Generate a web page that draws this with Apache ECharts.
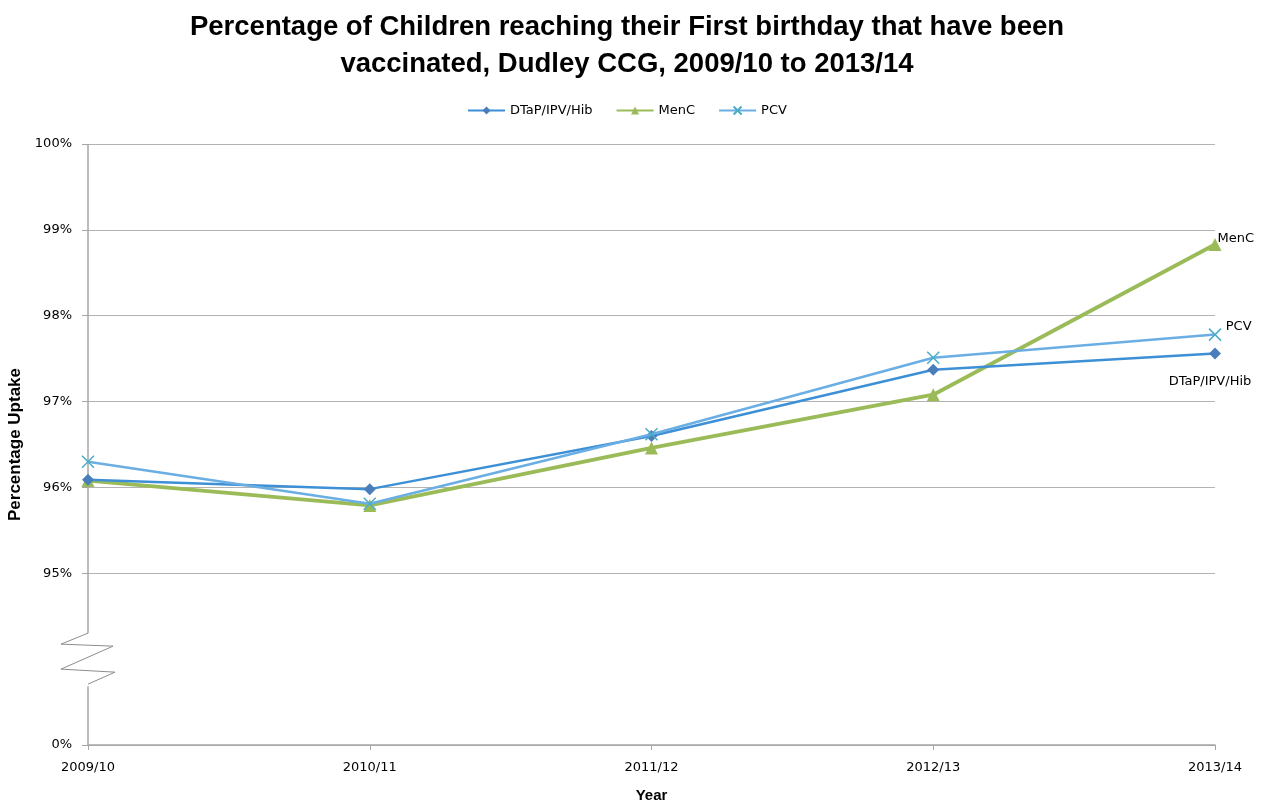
<!DOCTYPE html>
<html>
<head>
<meta charset="utf-8">
<script src="https://cdn.jsdelivr.net/npm/echarts@6/dist/echarts.min.js"></script>
<style>html,body{margin:0;padding:0;background:#fff}#c{width:1271px;height:805px}</style>
</head>
<body>
<div id="c"></div>
<script>
const categories = ['2009/10', '2010/11', '2011/12', '2012/13', '2013/14'];
const dtap = [96.09, 95.98, 96.60, 97.37, 97.56];
const menc = [96.08, 95.79, 96.46, 97.08, 98.83];
const pcv  = [96.30, 95.81, 96.62, 97.51, 97.78];
const yTicks = [93, 95, 96, 97, 98, 99, 100];   // 93 is drawn as 0% (broken axis)
const yBreakValue = 93;

const FONT = '"Liberation Sans", Arial, sans-serif';
const FONT2 = '"DejaVu Sans", sans-serif';
const chart = echarts.init(document.getElementById('c'));

function lastLabel(offset, pos) {
  return {
    show: true,
    position: pos,
    offset: offset,
    fontFamily: FONT2, fontSize: 13, color: '#000',
    formatter: p => p.dataIndex === categories.length - 1 ? p.seriesName : ''
  };
}

const option = {
  animation: false,
  textStyle: { fontFamily: FONT2 },
  title: {
    text: 'Percentage of Children reaching their First birthday that have been\nvaccinated, Dudley CCG, 2009/10 to 2013/14',
    left: 622, textAlign: 'center', top: 4,
    textStyle: { fontFamily: FONT, fontWeight: 'bold', fontSize: 27.5, lineHeight: 37, color: '#000' }
  },
  legend: {
    top: 99, left: 462,
    itemWidth: 37, itemHeight: 10, itemGap: 23,
    textStyle: { fontFamily: FONT2, fontSize: 13, color: '#000' },
    data: ['DTaP/IPV/Hib', 'MenC', 'PCV']
  },
  grid: { left: 88, right: 56, top: 144, bottom: 60, containLabel: false, outerBoundsMode: 'none' },
  xAxis: {
    type: 'category', data: categories, boundaryGap: false,
    name: 'Year', nameLocation: 'middle', nameGap: 43,
    nameTextStyle: { fontFamily: FONT, fontWeight: 'bold', fontSize: 15, color: '#000' },
    axisLine: { lineStyle: { color: '#a6a6a6', width: 1.5 } },
    axisTick: { show: true, length: 5, lineStyle: { color: '#a6a6a6' } },
    axisLabel: { fontFamily: FONT2, fontSize: 13, color: '#000', margin: 16 },
    splitLine: { show: false }
  },
  yAxis: {
    type: 'value', min: 93, max: 100, interval: 1,
    name: 'Percentage Uptake', nameLocation: 'middle', nameGap: 63,
    nameTextStyle: { fontFamily: FONT, fontWeight: 'bold', fontSize: 17, color: '#000' },
    axisLine: { show: false },
    axisTick: { show: true, length: 6, customValues: yTicks, lineStyle: { color: '#a6a6a6' } },
    axisLabel: {
      customValues: yTicks, fontFamily: FONT2, fontSize: 13, color: '#000', margin: 16,
      formatter: v => (v === yBreakValue ? 0 : v) + '%'
    },
    splitLine: { show: true, lineStyle: { color: '#b3b3b3', width: 1.2 } }
  },
  series: [
    {
      name: 'DTaP/IPV/Hib', type: 'line', data: dtap,
      symbol: 'diamond', symbolSize: 12,
      lineStyle: { color: '#3d8fd6', width: 2.5 },
      itemStyle: { color: '#4a7ebb' },
      label: lastLabel([-5, 11], 'bottom'),
      z: 3
    },
    {
      name: 'MenC', type: 'line', data: menc,
      symbol: 'triangle', symbolSize: 13,
      lineStyle: { color: '#9bbb59', width: 3.8 },
      itemStyle: { color: '#9bbb59' },
      label: lastLabel([-9, -6], 'right'),
      z: 2
    },
    {
      name: 'PCV', type: 'line', data: pcv,
      symbol: 'path://M0,0L10,10M10,0L0,10', symbolSize: 12, symbolKeepAspect: true,
      lineStyle: { color: '#6aaee3', width: 2.5 },
      itemStyle: { color: 'rgba(0,0,0,0)', borderColor: '#4bacc6', borderWidth: 1.5 },
      label: lastLabel([-1, -8], 'right'),
      z: 4
    }
  ]
};
chart.setOption(option);

// Broken-axis decoration on the y axis
const toPx = v => chart.convertToPixel({ gridIndex: 0 }, [categories[0], v]);
const pTop = toPx(100), pBottom = toPx(93), p94 = toPx(94);
const x0 = pTop[0];
const breakTop = p94[1] - 26, breakBot = p94[1] + 25;
const gc = '#a6a6a6';
chart.setOption({
  graphic: [
    { type: 'line', shape: { x1: x0, y1: pTop[1], x2: x0, y2: breakTop }, style: { stroke: gc, lineWidth: 1.5 }, silent: true },
    { type: 'polyline', shape: { points: [
        [x0, breakTop], [x0 - 27, breakTop + 11], [x0 + 25, breakTop + 13],
        [x0 - 27, breakTop + 36], [x0 + 27, breakTop + 39], [x0, breakBot]
      ] }, style: { stroke: '#8c8c8c', lineWidth: 1, fill: null }, silent: true },
    { type: 'line', shape: { x1: x0, y1: breakBot + 2, x2: x0, y2: pBottom[1] }, style: { stroke: gc, lineWidth: 1.5 }, silent: true }
  ]
});
</script>
</body>
</html>
